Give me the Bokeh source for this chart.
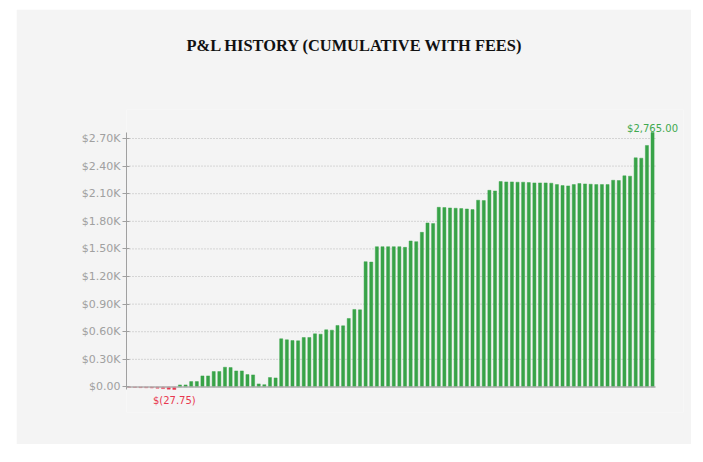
from bokeh.plotting import figure
from bokeh.models import ColumnDataSource, FixedTicker, Label, Title
from bokeh.embed import file_html
from bokeh.resources import INLINE

# ---- data ----
title_text = "P&L HISTORY (CUMULATIVE WITH FEES)"
pnl = [
    -2.5, -5.0, -7.5, -9.0, -11.0, -14.0, -18.0, -24.0, -27.75,
    22, 22, 58, 58, 120, 120, 167, 167, 214, 210, 174, 174, 134, 131, 33, 25, 102, 98,
    523, 512, 504, 501, 537, 537, 577, 573, 621, 617, 668, 664, 744, 842, 838,
    1361, 1357, 1524, 1524, 1524, 1524, 1524, 1517, 1586, 1579, 1680, 1782, 1775,
    1952, 1949, 1945, 1942, 1938, 1934, 1927, 2029,
    2025, 2137, 2130, 2232, 2228, 2228, 2225, 2225, 2221, 2217, 2217, 2217, 2214,
    2199, 2188, 2185, 2199, 2210, 2206, 2203, 2199, 2199, 2199, 2246, 2243,
    2294, 2290, 2490, 2486, 2624, 2765,
]
tick_values = [0, 300, 600, 900, 1200, 1500, 1800, 2100, 2400, 2700]
tick_labels = ["$0.00", "$0.30K", "$0.60K", "$0.90K", "$1.20K", "$1.50K",
               "$1.80K", "$2.10K", "$2.40K", "$2.70K"]

GREEN = "#38a348"
RED = "#e8384f"
GRID = "#b5b5b5"

n = len(pnl)
idx = list(range(n))
colors = [GREEN if v >= 0 else RED for v in pnl]
src = ColumnDataSource(dict(x=idx, top=pnl, color=colors))

vmin = min(pnl)
vmax = max(pnl)
imin = pnl.index(vmin)
imax = pnl.index(vmax)
pad_y = 250   # room for the value labels inside the plot area
pad_x = 5     # room on the right for the max label

p = figure(width=675, height=435,
           x_range=(-0.5, n - 0.5 + pad_x), y_range=(vmin - pad_y, vmax + pad_y),
           output_backend="svg", toolbar_location=None,
           min_border_left=110, min_border_right=8,
           min_border_top=100, min_border_bottom=32,
           background_fill_color="#f4f4f4", border_fill_color="#f4f4f4",
           outline_line_color=None)
p.margin = (9, 0, 0, 16)

# spacer title (closest to the plot area), then the real title above it
p.add_layout(Title(text=" ", text_font_size="1px", standoff=52), "above")
p.add_layout(Title(text=title_text, align="left", offset=60, standoff=0,
                   text_font="Liberation Serif", text_font_style="bold",
                   text_font_size="16.4px", text_color="#111111"), "above")

# grid lines and zero line limited to the bar area
grid = p.segment(x0=[-0.5] * len(tick_values), x1=[n - 0.5] * len(tick_values),
                 y0=tick_values, y1=tick_values,
                 line_color=GRID, line_dash="1 2", line_width=1)
grid.level = "underlay"

p.vbar(x="x", top="top", bottom=0, width=0.55, source=src,
       fill_color="color", line_color="color", line_alpha=0.45, line_width=1)

zero = p.segment(x0=[-0.5], x1=[n - 0.5], y0=[0], y1=[0],
                 line_color="#b0b0b0", line_width=1.5)

p.xaxis.visible = False
p.xgrid.visible = False
p.ygrid.visible = False

ya = p.yaxis[0]
ya.ticker = FixedTicker(ticks=tick_values)
ya.bounds = (vmin, vmax)
ya.major_label_overrides = {t: l for t, l in zip(tick_values, tick_labels)}
ya.axis_line_color = "#a0a0a0"
ya.major_tick_line_color = "#a0a0a0"
ya.minor_tick_line_color = None
ya.major_tick_out = 4
ya.major_tick_in = 3
ya.major_label_standoff = 2
ya.major_label_text_font = "DejaVu Sans"
ya.major_label_text_font_size = "11px"
ya.major_label_text_color = "#a0a0a0"

p.add_layout(Label(x=imax, y=vmax, text="${:,.2f}".format(vmax),
                   text_align="center", text_baseline="alphabetic", y_offset=4,
                   text_font="DejaVu Sans", text_font_size="10px", text_color="#3fa94f"))
p.add_layout(Label(x=imin, y=vmin, text="$({:,.2f})".format(abs(vmin)),
                   text_align="center", text_baseline="top", y_offset=-6,
                   text_font="DejaVu Sans", text_font_size="10px", text_color=RED))

open("out.html", "w").write(file_html(p, INLINE))
